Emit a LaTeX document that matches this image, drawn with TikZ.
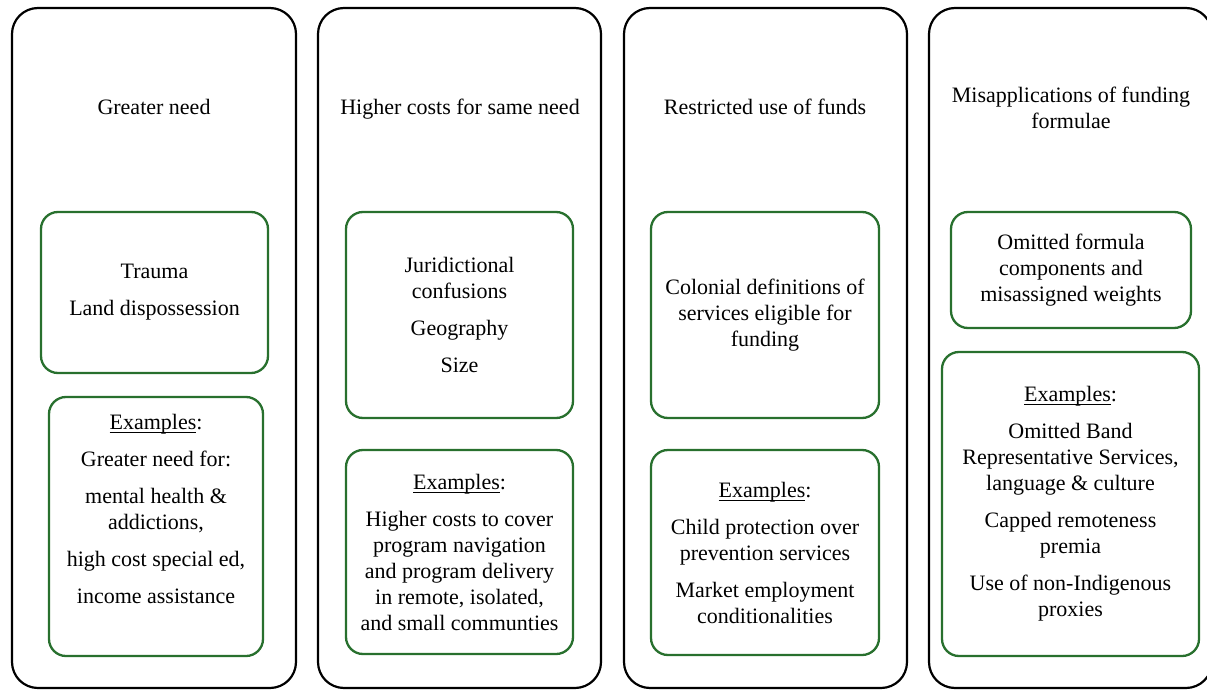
\documentclass[tikz,border=0pt]{standalone}
\usepackage{fontspec}
\setmainfont{Liberation Serif}
\definecolor{boxgreen}{RGB}{40,112,46}
\tikzset{
  colbox/.style={draw=black, line width=2.2pt, rounded corners=26pt, inner sep=0pt, minimum width=283pt, minimum height=680pt},
  greenbox/.style={draw=boxgreen, line width=2.3pt, rounded corners=17pt, inner sep=0pt},
  txt/.style={align=center, inner sep=0pt, font=\fontsize{22}{26}\selectfont, text=black}
}
\newcommand{\myul}[1]{\setbox0\hbox{#1}\rlap{\rule[-3.5pt]{\wd0}{1pt}}\box0}
\newcommand{\exhead}{\myul{Examples}:}
\begin{document}
\begin{tikzpicture}[x=1pt,y=-1pt]
\useasboundingbox (0,0) rectangle (1207,690);
\fill[white] (0,0) rectangle (1207,690);

% outer columns
\node[colbox, minimum width=284pt] (c1) at (154,348) {};
\node[colbox] (c2) at (459.5,348) {};
\node[colbox] (c3) at (765.5,348) {};
\node[colbox] (c4) at (1070.5,348) {};

% titles
\node[txt] (h1) at (154,107) {Greater need};
\node[txt] (h2) at (460,109) {Higher costs for same need};
\node[txt] (h3) at (765,107) {Restricted use of funds};
\node[txt] (h4) at (1071,108) {Misapplications of funding\\formulae};

% green boxes
\node[greenbox, minimum width=227pt, minimum height=161pt] (g1a) at (154.5,292.5) {};
\node[greenbox, minimum width=214pt, minimum height=259pt] (g1b) at (156,526.5) {};
\node[greenbox, minimum width=227pt, minimum height=206pt] (g2a) at (459.5,315) {};
\node[greenbox, minimum width=227pt, minimum height=204pt] (g2b) at (459.5,552) {};
\node[greenbox, minimum width=228pt, minimum height=206pt] (g3a) at (765,315) {};
\node[greenbox, minimum width=228pt, minimum height=205pt] (g3b) at (765,552.5) {};
\node[greenbox, minimum width=240pt, minimum height=116pt] (g4a) at (1071,270) {};
\node[greenbox, minimum width=257pt, minimum height=304pt] (g4b) at (1070.5,504) {};

% texts in green boxes
\node[txt] (t1a) at (154.5,292.5) {Trauma\\[11pt]Land dispossession};
\node[txt] (t1b) at (156,508.5) {\exhead\\[11pt]Greater need for:\\[11pt]mental health \&\\addictions,\\[11pt]high cost special ed,\\[11pt]income assistance};
\node[txt] (t2a) at (459.5,315) {Juridictional\\confusions\\[11pt]Geography\\[11pt]Size};
\node[txt] (t2b) at (459.5,552) {\exhead\\[11pt]Higher costs to cover\\program navigation\\and program delivery\\in remote, isolated,\\and small communties};
\node[txt] (t3a) at (765,315) {Colonial definitions of\\services eligible for\\funding};
\node[txt] (t3b) at (765,553) {\exhead\\[11pt]Child protection over\\prevention services\\[11pt]Market employment\\conditionalities};
\node[txt] (t4a) at (1071,270) {Omitted formula\\components and\\misassigned weights};
\node[txt] (t4b) at (1070.5,503.5) {\exhead\\[11pt]Omitted Band\\Representative Services,\\language \& culture\\[11pt]Capped remoteness\\premia\\[11pt]Use of non-Indigenous\\proxies};
\end{tikzpicture}
\end{document}
